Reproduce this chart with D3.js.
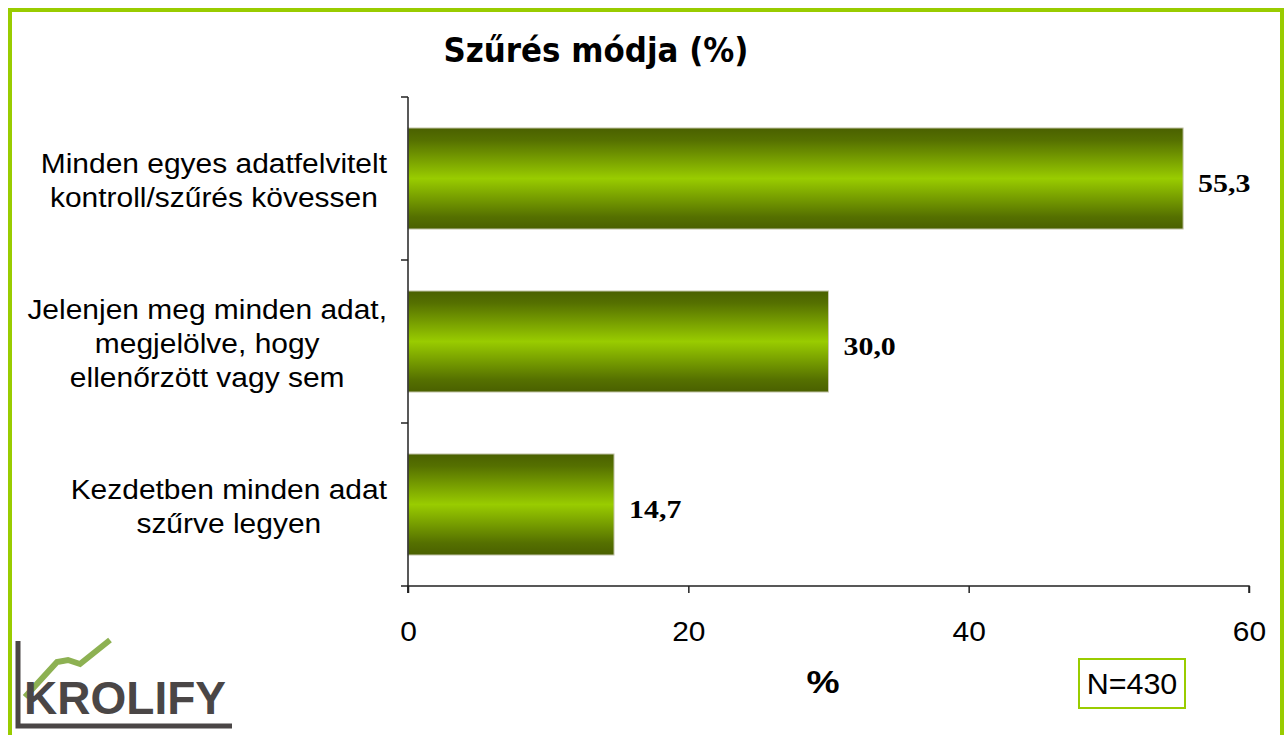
<!DOCTYPE html>
<html>
<head>
<meta charset="utf-8">
<script src="https://cdn.jsdelivr.net/npm/d3@7"></script>
<style>
  body { margin: 0; background: #fff; }
</style>
</head>
<body>
<div id="chart"></div>
<script>
// chart data
var categories = [
  ["Minden egyes adatfelvitelt", "kontroll/szűrés kövessen"],
  ["Jelenjen meg minden adat,", "megjelölve, hogy", "ellenőrzött vagy sem"],
  ["Kezdetben minden adat", "szűrve legyen"]
];
var values = [55.3, 30.0, 14.7];
var xTicks = [0, 20, 40, 60];
var title = "Szűrés módja (%)";
var sampleLabel = "N=430";

var W = 1284, H = 735;
var svg = d3.select("#chart").append("svg")
  .attr("width", W)
  .attr("height", H);

// the original picture is a bit stretched sideways
function wideText(parent, px, py, sx) {
  return parent.append("g")
    .attr("transform", "translate(" + px + "," + py + ") scale(" + sx + ",1)")
    .append("text");
}

// green frame
svg.append("rect")
  .attr("x", 10).attr("y", 10)
  .attr("width", 1272).attr("height", H + 20)
  .attr("fill", "none")
  .attr("stroke", "#99cc00")
  .attr("stroke-width", 4);

// bar gradient
var grad = svg.append("defs").append("linearGradient")
  .attr("id", "barGrad")
  .attr("x1", 0).attr("y1", 0).attr("x2", 0).attr("y2", 1);
grad.append("stop").attr("offset", "0%").attr("stop-color", "#4a6000");
grad.append("stop").attr("offset", "12%").attr("stop-color", "#557000");
grad.append("stop").attr("offset", "50%").attr("stop-color", "#99cc00");
grad.append("stop").attr("offset", "88%").attr("stop-color", "#557000");
grad.append("stop").attr("offset", "100%").attr("stop-color", "#4a6000");

var plotLeft = 408, plotRight = 1249, plotTop = 97, plotBottom = 586;

var x = d3.scaleLinear().domain([0, 60]).range([plotLeft, plotRight]);
var y = d3.scaleBand()
  .domain(d3.range(values.length))
  .range([plotTop, plotBottom])
  .paddingInner(0.38)
  .paddingOuter(0.19);

// title
svg.append("text")
  .attr("x", 596).attr("y", 62)
  .attr("text-anchor", "middle")
  .attr("textLength", 305)
  .attr("lengthAdjust", "spacingAndGlyphs")
  .style("font", "bold 33px 'DejaVu Sans Condensed', 'DejaVu Sans'")
  .text(title);

// bars
svg.selectAll(".bar")
  .data(values)
  .enter().append("rect")
  .attr("class", "bar")
  .attr("x", x(0))
  .attr("y", function(d, i) { return y(i); })
  .attr("width", function(d) { return x(d) - x(0); })
  .attr("height", y.bandwidth())
  .attr("fill", "url(#barGrad)")
  .attr("stroke", "#c8c8b0")
  .attr("stroke-width", 1);

// value labels
values.forEach(function(d, i) {
  wideText(svg, x(d) + 15, y(i) + y.bandwidth() / 2 + 13, 1.15)
    .style("font", "bold 26px 'Liberation Serif'")
    .text(d.toFixed(1).replace(".", ","));
});

// y axis line and ticks (category separators)
var yAxisG = svg.append("g");
yAxisG.append("line")
  .attr("x1", plotLeft).attr("x2", plotLeft)
  .attr("y1", plotTop).attr("y2", plotBottom + 7)
  .attr("stroke", "#222").attr("stroke-width", 1.5);
var sepY = d3.range(values.length + 1).map(function(i) {
  return plotTop + i * (plotBottom - plotTop) / values.length;
});
yAxisG.selectAll(".ytick")
  .data(sepY)
  .enter().append("line")
  .attr("x1", plotLeft - 7).attr("x2", plotLeft)
  .attr("y1", function(d) { return d; })
  .attr("y2", function(d) { return d; })
  .attr("stroke", "#222").attr("stroke-width", 1.5);

// category labels: each block right aligned near the axis, lines centred in it
var labelRight = 387, labelScale = 1.07;
categories.forEach(function(lines, i) {
  var cy = y(i) + y.bandwidth() / 2;
  var lh = 34;
  var texts = lines.map(function(l, j) {
    return wideText(svg, 0, cy - (lines.length - 1) * lh / 2 + j * lh + 11, labelScale)
      .attr("text-anchor", "middle")
      .style("font", "28px 'Liberation Sans'")
      .attr("fill", "#000")
      .text(l);
  });
  var maxW = d3.max(texts, function(t) { return t.node().getComputedTextLength(); }) * labelScale;
  var cx = labelRight - maxW / 2;
  texts.forEach(function(t, j) {
    d3.select(t.node().parentNode)
      .attr("transform", "translate(" + cx + "," + (cy - (lines.length - 1) * lh / 2 + j * lh + 11) + ") scale(" + labelScale + ",1)");
  });
});

// x axis
var xAxis = d3.axisBottom(x).tickValues(xTicks).tickSize(7).tickPadding(28);
var xg = svg.append("g")
  .attr("transform", "translate(0," + plotBottom + ")")
  .call(xAxis);
xg.select(".domain").attr("stroke", "#222").attr("stroke-width", 1.5)
  .attr("d", "M" + plotLeft + ",7V0H" + plotRight + "V7");
xg.selectAll(".tick line").attr("stroke", "#222").attr("stroke-width", 1.5);
xg.selectAll(".tick text")
  .attr("transform", "scale(1.07,1)")
  .style("font", "28px 'Liberation Sans'")
  .attr("fill", "#000");

// axis title
wideText(svg, 823, 693, 1.2)
  .attr("text-anchor", "middle")
  .style("font", "bold 31px 'Liberation Sans'")
  .text("%");

// N box
svg.append("rect")
  .attr("x", 1079).attr("y", 659)
  .attr("width", 106).attr("height", 49)
  .attr("fill", "#fff")
  .attr("stroke", "#99cc00").attr("stroke-width", 2);
wideText(svg, 1132, 694, 1.05)
  .attr("text-anchor", "middle")
  .style("font", "29px 'Liberation Sans'")
  .text(sampleLabel);

// logo
var logo = svg.append("g");
logo.append("path")
  .attr("d", "M25,697 L57,662 L68,660 L80,664 L110,640")
  .attr("fill", "none")
  .attr("stroke", "#8db152")
  .attr("stroke-width", 6);
logo.append("path")
  .attr("d", "M18,641 V726 H232")
  .attr("fill", "none")
  .attr("stroke", "#4a4646")
  .attr("stroke-width", 5);
logo.append("text")
  .attr("x", 24).attr("y", 714)
  .attr("textLength", 202)
  .style("font", "bold 46px 'Liberation Sans'")
  .attr("fill", "#4a4646")
  .text("KROLIFY");
</script>
</body>
</html>
